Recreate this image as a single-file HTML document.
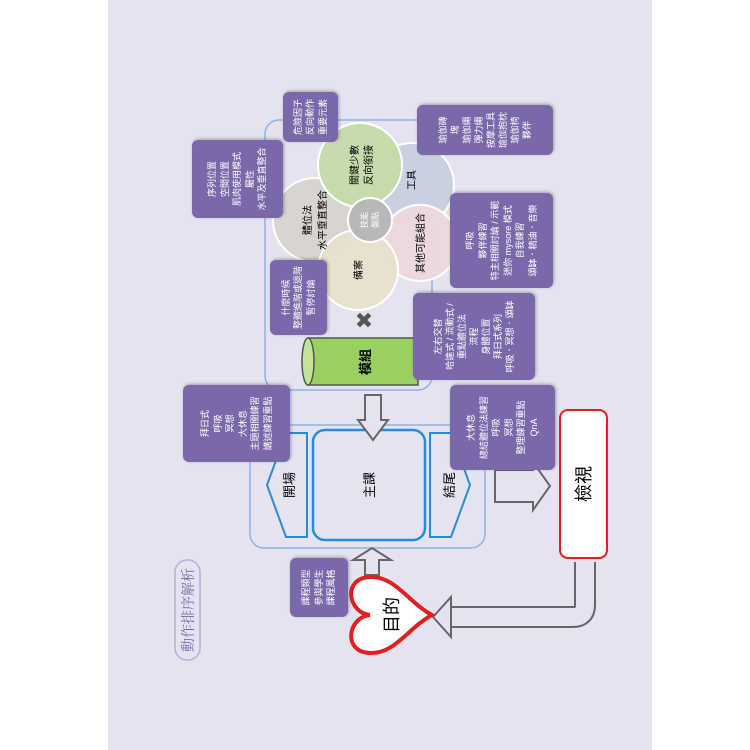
<!DOCTYPE html>
<html><head><meta charset="utf-8"><style>
body{margin:0;width:750px;height:750px;background:#fff;overflow:hidden;position:relative;font-family:"Liberation Sans","Noto Sans CJK TC",sans-serif}
#pg{position:absolute;left:108px;top:0;width:544px;height:750px;background:#e5e3f0}
#L{position:absolute;left:108px;top:0;width:750px;height:544px;transform-origin:0 0;transform:translate(0,750px) rotate(-90deg)}
.b{position:absolute;background:#7a68aa;color:#fff;border-radius:6px;box-shadow:1px 1px 3px rgba(0,0,0,.3);font-size:9px;line-height:12.5px;text-align:center;display:flex;flex-direction:column;justify-content:center;align-items:center}
svg{position:absolute;left:0;top:0}
</style></head><body>
<div id="pg"></div>
<div id="L">
<svg width="750" height="544" font-family="Liberation Sans, Noto Sans CJK TC, sans-serif">
 <rect x="360" y="157" width="270" height="167" rx="14" fill="none" stroke="#8db4e0" stroke-width="1.5"/>
 <rect x="202" y="142" width="123" height="235" rx="14" fill="none" stroke="#8db4e0" stroke-width="1.5"/>
 <rect x="210" y="205" width="110" height="112" rx="12" fill="none" stroke="#2a8ad4" stroke-width="2.5"/>
 <polygon points="213,199 317,199 317,178 265,159 213,178" fill="none" stroke="#2a8ad4" stroke-width="2"/>
 <polygon points="213,322 317,322 317,343 265,362 213,343" fill="none" stroke="#2a8ad4" stroke-width="2"/>
 <text x="265" y="186" font-size="13" text-anchor="middle">開場</text>
 <text x="265" y="346" font-size="13" text-anchor="middle">結尾</text>
 <text x="265" y="266" font-size="13" text-anchor="middle">主課</text>
 <!-- circles -->
 <circle cx="530" cy="207" r="42" fill="#d8d4d0" stroke="#fff" stroke-width="2"/>
 <circle cx="565" cy="304" r="42" fill="#c9d0e0" stroke="#fff" stroke-width="2"/>
 <circle cx="585" cy="252" r="42" fill="#c5dba8" stroke="#fff" stroke-width="2" fill-opacity=".95"/>
 <circle cx="507" cy="312" r="38" fill="#ecd8dc" stroke="#fff" stroke-width="2" fill-opacity=".95"/>
 <circle cx="480" cy="250" r="40" fill="#e8e0cc" stroke="#fff" stroke-width="2" fill-opacity=".95"/>
 <circle cx="530" cy="262" r="22" fill="#b8b8b8" stroke="#fff" stroke-width="2"/>
 <text x="530" y="203" font-size="10" text-anchor="middle">體位法</text>
 <text x="530" y="218" font-size="10" text-anchor="middle">水平垂直整合</text>
 <text x="585" y="250" font-size="10" text-anchor="middle">關鍵少數</text>
 <text x="585" y="264" font-size="10" text-anchor="middle">反向銜接</text>
 <text x="570" y="307" font-size="10" text-anchor="middle">工具</text>
 <text x="507" y="316" font-size="10" text-anchor="middle">其他可能組合</text>
 <text x="480" y="254" font-size="10" text-anchor="middle">備案</text>
 <text x="530" y="259" font-size="8" fill="#fff" text-anchor="middle">技能</text>
 <text x="530" y="270" font-size="8" fill="#fff" text-anchor="middle">盤點</text>
 <text x="430" y="264" font-size="22" fill="#555" text-anchor="middle">✖</text>
 <!-- cylinder -->
 <rect x="365" y="200" width="47" height="110" fill="#9ad060" stroke="#555" stroke-width="1.5"/>
 <ellipse cx="388.5" cy="200" rx="23.5" ry="6" fill="#c2e49a" stroke="#555" stroke-width="1.5"/>
 <text x="388" y="262" font-size="13" font-weight="bold" text-anchor="middle">模組</text>
 <!-- arrows -->
 <polygon points="355,257 330,257 330,250 310,265 330,280 330,273 355,273" fill="#e5e3f0" stroke="#666" stroke-width="2"/>
 <polygon points="175,257 190,257 190,245 202,264 190,283 190,271 175,271" fill="#e5e3f0" stroke="#666" stroke-width="2"/>
 <polygon points="280,387 280,425 288,425 264,442 240,425 248,425 248,387" fill="#e5e3f0" stroke="#666" stroke-width="2"/>
 <path d="M188,477 L145,477 Q133,477 133,465 L133,340" fill="none" stroke="#666" stroke-width="22"/>
 <path d="M190,477 L145,477 Q133,477 133,465 L133,338" fill="none" stroke="#e5e3f0" stroke-width="18"/>
 <polygon points="133,325 113,343 123,343 143,343 153,343" fill="#e5e3f0" stroke="#666" stroke-width="2"/>
 <rect x="192" y="452" width="148" height="47" rx="8" fill="#fff" stroke="#e02020" stroke-width="2"/>
 <text x="266" y="482" font-size="18" text-anchor="middle">檢視</text>
 <!-- heart -->
 <path d="M135,262 C133,240 98,234 97,262 C96,287 122,300 135,324 C148,300 174,287 173,262 C172,234 137,240 135,262 Z" fill="#fff" stroke="#e02020" stroke-width="4"/>
 <text x="135" y="290" font-size="18" text-anchor="middle">目的</text>
 <rect x="90" y="67" width="100" height="25" rx="12" fill="#e5e3f0" stroke="#b8aed8" stroke-width="1.5"/>
 <text x="140" y="85" font-size="14" fill="#7a68aa" text-anchor="middle" font-family="Liberation Serif, Noto Serif CJK SC, serif">動作排序解析</text>
</svg>
<div class="b" style="left:133px;top:182px;width:59px;height:58px">課程類型<br>參與學生<br>課程風格</div>
<div class="b" style="left:288px;top:75px;width:77px;height:107px">拜日式<br>呼吸<br>冥想<br>大休息<br>主題相關練習<br>講述練習重點</div>
<div class="b" style="left:280px;top:342px;width:85px;height:105px">大休息<br>總結體位法練習<br>呼吸<br>冥想<br>整理練習重點<br>QnA</div>
<div class="b" style="left:608px;top:175px;width:50px;height:55px">危險因子<br>反向動作<br>重要元素</div>
<div class="b" style="left:532px;top:84px;width:78px;height:91px">序列位置<br>空間位置<br>肌肉使用模式<br>屬性<br>水平及垂直整合</div>
<div class="b" style="left:415px;top:162px;width:75px;height:57px">什麼時候<br>整體進階或退階<br>暫停討論</div>
<div class="b" style="left:595px;top:309px;width:50px;height:136px;line-height:12px">瑜伽磚<br>塊<br>瑜伽繩<br>彈力繩<br>按摩工具<br>瑜伽抱枕<br>瑜伽椅<br>夥伴</div>
<div class="b" style="left:462px;top:342px;width:95px;height:103px">呼吸<br>夥伴練習<br>特主相關討論 / 示範<br>迷你 mysore 模式<br>自我練習<br>頌缽．精油．音樂</div>
<div class="b" style="left:370px;top:305px;width:87px;height:122px;line-height:12px">左右交替<br>哈達式 / 流動式 /<br>重點體位法<br>流程<br>身體位置<br>拜日式系列<br>呼吸．冥想．頌缽</div>
</div>
</body></html>
